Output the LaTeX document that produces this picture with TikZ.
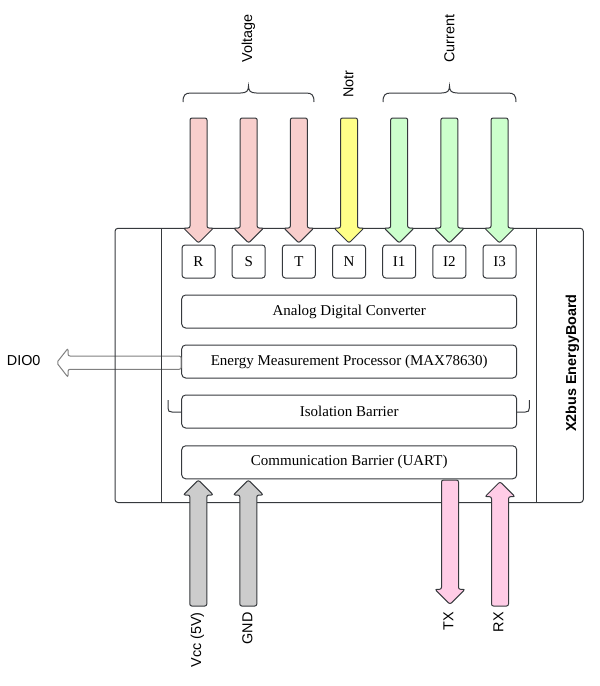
\documentclass[tikz,border=0pt]{standalone}
\usepackage{fontspec}
\setmainfont{Liberation Serif}
\newfontfamily\lsans{Liberation Sans}
\definecolor{linec}{HTML}{36393D}
\definecolor{redf}{HTML}{F8CECC}
\definecolor{yelf}{HTML}{FFFF88}
\definecolor{grnf}{HTML}{CCFFCC}
\definecolor{gryf}{HTML}{CCCCCC}
\definecolor{pnkf}{HTML}{FFCCE6}
\tikzset{
  ln/.style={draw=linec, line width=1pt},
  pinbox/.style={ln, rounded corners=3pt, minimum width=33pt, minimum height=33pt, inner sep=0pt, font=\fontsize{15}{17}\selectfont},
  bigbox/.style={ln, rounded corners=4pt, minimum width=335pt, minimum height=33pt, inner sep=0pt, font=\fontsize{15}{17}\selectfont},
  lab/.style={font=\lsans\fontsize{14.4}{16}\selectfont, inner sep=0pt},
  arr/.style={ln, rounded corners=2pt},
}
% vertical block arrow: x, y of tail, y of tip, fill colour (head 15 long, 30 wide, shaft 17 wide)
\newcommand\vblockarrow[4]{%
  \draw[arr, fill=#4] (#1-8.5,#2) -- (#1+8.5,#2) -- (#1+8.5,#3-15) -- (#1+15,#3-15)
    -- (#1,#3) -- (#1-15,#3-15) -- (#1-8.5,#3-15) -- cycle;}
\newcommand\vblockarrowup[4]{%
  \draw[arr, fill=#4] (#1-8.5,#2) -- (#1+8.5,#2) -- (#1+8.5,#3+15) -- (#1+15,#3+15)
    -- (#1,#3) -- (#1-15,#3+15) -- (#1-8.5,#3+15) -- cycle;}
% curly brace over x1..x2, horizontal line at y
\newcommand\topbrace[3]{%
  \pgfmathsetmacro\xm{(#1+#2)/2}%
  \draw[ln] (#1,#3+9) .. controls (#1,#3+2) and (#1+2,#3) .. (#1+8,#3) -- (\xm-8,#3)
    .. controls (\xm-2,#3) and (\xm,#3-2) .. (\xm,#3-7)
    .. controls (\xm,#3-2) and (\xm+2,#3) .. (\xm+8,#3) -- (#2-8,#3)
    .. controls (#2-2,#3) and (#2,#3+2) .. (#2,#3+9);}
\begin{document}
\begin{tikzpicture}[x=1pt,y=-1pt]
\useasboundingbox (0,0) rectangle (600,686);

% DIO0 output arrow (under the board lines)
\node[bigbox] (emp) at (349.2,361.5) {Energy Measurement Processor (MAX78630)};
\coordinate (dtip) at (56.7,362.7);
\draw[arr, draw=gray, fill=white] (emp.west |- 0,356) -- (68,356) -- (68,348.3) -- (dtip)
  -- (68,377.3) -- (68,369.3) -- (emp.west |- 0,369.3) -- cycle;
\node[lab] (dio) at (23.7,361) {DIO0};

% board outline
\draw[ln, rounded corners=3pt] (115,228.3) rectangle (583.3,502.5);
\draw[ln] (161.7,228.3) -- (161.7,502.5);
\draw[ln] (536.7,228.3) -- (536.7,502.5);
\node[lab, font=\lsans\bfseries\fontsize{14.4}{16}\selectfont, rotate=90] (board) at (572.5,363) {X2bus EnergyBoard};

% inner blocks
\node[bigbox] (adc) at (349.2,311.5) {Analog Digital Converter};
\node[bigbox] (iso) at (349.2,411.5) {Isolation Barrier};
\node[bigbox] (com) at (349.2,462.3) {Communication Barrier (UART)};
\draw[ln] (168,400) -- (168,408) .. controls (168,411) and (169,412) .. (172,412) -- (iso.west |- 0,412);
\draw[ln] (529.3,400) -- (529.3,408) .. controls (529.3,411) and (528.3,412) .. (525.3,412) -- (iso.east |- 0,412);

% input pins
\foreach \n/\t [count=\i from 0] in {pR/R, pS/S, pT/T, pN/N, pI1/I1, pI2/I2, pI3/I3}{
  \node[pinbox] (\n) at (198.5+50.17*\i,261.5) {\t};
}
\vblockarrow{198.5}{118}{243}{redf}
\vblockarrow{248.67}{118}{243}{redf}
\vblockarrow{298.84}{118}{243}{redf}
\vblockarrow{349.01}{118}{243}{yelf}
\vblockarrow{399.18}{118}{243}{grnf}
\vblockarrow{449.35}{118}{243}{grnf}
\vblockarrow{499.52}{118}{243}{grnf}

% braces and top labels
\topbrace{183}{314}{93}
\topbrace{383}{516}{93}
\node[lab, rotate=90, anchor=west] (volt) at (248.5,63) {Voltage};
\node[lab, rotate=90, anchor=west] (notr) at (348.5,98) {Notr};
\node[lab, rotate=90, anchor=west] (curr) at (449.5,63) {Current};

% bottom arrows
\vblockarrowup{198.3}{606}{480}{gryf}
\vblockarrowup{248.3}{606}{480}{gryf}
\vblockarrow{450}{480}{604.3}{pnkf}
\vblockarrowup{500}{606}{481.7}{pnkf}
\node[lab, rotate=90, anchor=east] (vcc) at (197.5,612) {Vcc (5V)};
\node[lab, rotate=90, anchor=east] (gnd) at (247.5,612) {GND};
\node[lab, rotate=90, anchor=east] (tx) at (448.5,612) {TX};
\node[lab, rotate=90, anchor=east] (rx) at (498.5,612) {RX};
\end{tikzpicture}
\end{document}
